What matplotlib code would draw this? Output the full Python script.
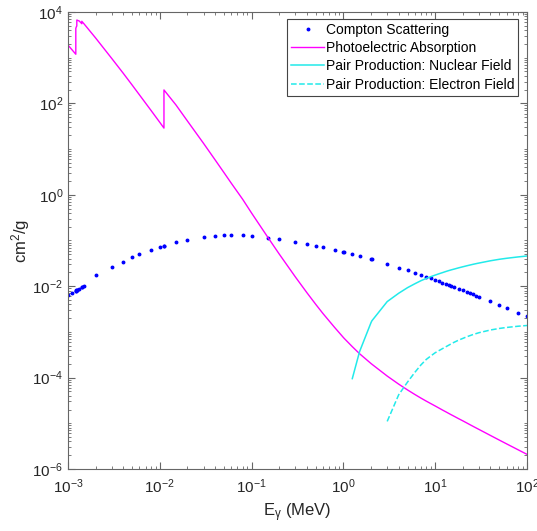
import matplotlib
matplotlib.use('Agg')
import matplotlib.pyplot as plt
from matplotlib.ticker import LogLocator, NullFormatter

plt.rcParams['font.family'] = ['Liberation Sans', 'DejaVu Sans']
plt.rcParams['mathtext.fontset'] = 'custom'
plt.rcParams['mathtext.rm'] = 'Liberation Sans'
plt.rcParams['mathtext.it'] = 'Liberation Sans:italic'
plt.rcParams['mathtext.default'] = 'regular'

# germanium cross sections (cm^2/g) on the XCOM energy grid (MeV)
energy = [1.0e-3, 1.10304e-3, 1.2167e-3, 1.2167e-3, 1.23215e-3, 1.2478e-3, 1.2478e-3,
          1.32844e-3, 1.4143e-3, 1.4143e-3, 1.5e-3, 2e-3, 3e-3, 4e-3, 5e-3, 6e-3, 8e-3,
          1e-2, 1.11031e-2, 1.11031e-2, 1.5e-2, 2e-2, 3e-2, 4e-2, 5e-2, 6e-2, 8e-2,
          0.1, 0.15, 0.2, 0.3, 0.4, 0.5, 0.6, 0.8, 1.0, 1.022, 1.25, 1.5, 2.0, 2.044,
          3, 4, 5, 6, 7, 8, 9, 10, 11, 12, 13, 14, 15, 16, 18, 20, 22, 24, 26, 28, 30,
          40, 50, 60, 80, 100]

compton = [0.0064, 0.0072, 0.0080, 0.0080, 0.0081, 0.0082, 0.0082,
           0.0088, 0.0094, 0.0094, 0.0100, 0.0172, 0.0265, 0.0345, 0.0425, 0.0495, 0.0610,
           0.0710, 0.0760, 0.0760, 0.0920, 0.1050, 0.1200, 0.1265, 0.1295, 0.1305, 0.1295,
           0.1262, 0.1160, 0.1070, 0.0940, 0.0845, 0.0768, 0.0710, 0.0624, 0.0565, 0.0559,
           0.0505, 0.0460, 0.0391, 0.0386,
           0.0306, 0.0256, 0.0222, 0.0197, 0.0177, 0.0162, 0.0149, 0.0137, 0.0127, 0.0119,
           0.0112, 0.0106, 0.01005, 0.00958, 0.00877, 0.00809, 0.00752, 0.00703, 0.00660,
           0.00623, 0.00590, 0.00471, 0.00391, 0.00334, 0.00261, 0.00221]

photo = [1.89e3, 1.50e3, 1.19e3, 4.38e3, 4.72e3, 4.96e3, 6.68e3,
         6.33e3, 5.54e3, 6.27e3, 5.46e3, 2.70e3, 9.60e2, 4.56e2, 2.52e2, 1.54e2, 7.08e1,
         3.85e1, 2.88e1, 1.97e2, 9.25e1, 4.12e1, 1.33e1, 5.83, 3.06, 1.80, 0.795,
         0.398, 0.118, 0.0505, 0.0159, 0.00722, 0.00400, 0.00251, 1.26e-3, 7.53e-4, 7.18e-4,
         4.75e-4, 3.33e-4, 2.03e-4, 1.96e-4,
         1.08e-4, 7.19e-5, 5.36e-5, 4.27e-5, 3.55e-5, 3.05e-5, 2.68e-5, 2.39e-5, 2.15e-5,
         1.95e-5, 1.79e-5, 1.65e-5, 1.53e-5, 1.43e-5, 1.26e-5, 1.13e-5, 1.02e-5, 9.28e-6,
         8.52e-6, 7.88e-6, 7.33e-6, 5.41e-6, 4.28e-6, 3.54e-6, 2.63e-6, 2.09e-6]

# pair production, nuclear field (above 1.022 MeV threshold)
pair_n_energy = [1.25, 1.5, 2.0, 2.044, 3, 4, 5, 6, 7, 8, 9, 10, 11, 12, 13, 14, 15, 16,
                 18, 20, 22, 24, 26, 28, 30, 40, 50, 60, 80, 100]
pair_nuc = [9.5e-5, 3.7e-4, 1.6e-3, 1.75e-3, 4.6e-3, 7.0e-3, 9.3e-3, 1.13e-2, 1.32e-2,
            1.48e-2, 1.62e-2, 1.75e-2, 1.87e-2, 1.98e-2, 2.09e-2, 2.19e-2, 2.28e-2, 2.36e-2,
            2.52e-2, 2.66e-2, 2.79e-2, 2.91e-2, 3.02e-2, 3.12e-2, 3.21e-2, 3.6e-2, 3.88e-2,
            4.08e-2, 4.37e-2, 4.58e-2]

# pair production, electron field (above 2.044 MeV threshold)
pair_e_energy = [3, 4, 5, 6, 7, 8, 9, 10, 11, 12, 13, 14, 15, 16, 18, 20, 22, 24, 26, 28,
                 30, 40, 50, 60, 80, 100]
pair_elec = [1.1e-5, 4.2e-5, 8.0e-5, 1.3e-4, 1.9e-4, 2.5e-4, 3.0e-4, 3.5e-4, 3.9e-4,
             4.3e-4, 4.7e-4, 5.1e-4, 5.5e-4, 5.9e-4, 6.6e-4, 7.2e-4, 7.8e-4, 8.3e-4, 8.8e-4,
             9.2e-4, 9.6e-4, 1.1e-3, 1.19e-3, 1.25e-3, 1.33e-3, 1.38e-3]

fig = plt.figure(figsize=(5.37, 5.31), dpi=100)
ax = fig.add_axes([0.1266, 0.1168, 0.8548, 0.8606])

ax.loglog(energy, compton, '.', color='#0000ff', markersize=3.6, label='Compton Scattering')
ax.loglog(energy, photo, '-', color='#ff00ff', lw=1.0, label='Photoelectric Absorption')
ax.loglog(pair_n_energy, pair_nuc, '-', color='#22eaea', lw=1.1,
          label='Pair Production: Nuclear Field')
ax.loglog(pair_e_energy, pair_elec, '--', color='#22eaea', lw=1.1,
          label='Pair Production: Electron Field')

ax.set_xlim(1e-3, 1e2)
ax.set_ylim(1e-6, 1e4)
ax.set_yticks([1e-6, 1e-4, 1e-2, 1e0, 1e2, 1e4])
ax.yaxis.set_minor_locator(LogLocator(base=10, subs=range(1, 10), numticks=20))
ax.xaxis.set_minor_locator(LogLocator(base=10, subs=range(2, 10), numticks=20))
ax.yaxis.set_minor_formatter(NullFormatter())
ax.xaxis.set_minor_formatter(NullFormatter())

grey = '#262626'
for s in ax.spines.values():
    s.set_color('#666666')
    s.set_linewidth(0.8)
ax.tick_params(which='both', direction='in', top=True, right=True, colors='#666666',
               labelcolor=grey, labelsize=11)
ax.tick_params(which='major', length=5)
ax.tick_params(which='minor', length=2.5)
ax.tick_params(axis='x', pad=6)

ax.set_xlabel(r'E$_{\gamma}$ (MeV)', fontsize=12, color=grey)
ax.set_ylabel(r'cm$^2$/g', fontsize=12, color=grey, labelpad=0)

leg = ax.legend(loc='upper right', bbox_to_anchor=(0.981, 0.985), borderaxespad=0,
                fontsize=10, frameon=True, fancybox=False, framealpha=1,
                handlelength=2.4, handletextpad=0.1, labelspacing=0.3,
                borderpad=0.3, numpoints=1)
leg.get_frame().set_edgecolor('#444444')
leg.get_frame().set_linewidth(0.8)

fig.savefig('out.png', dpi=100)
